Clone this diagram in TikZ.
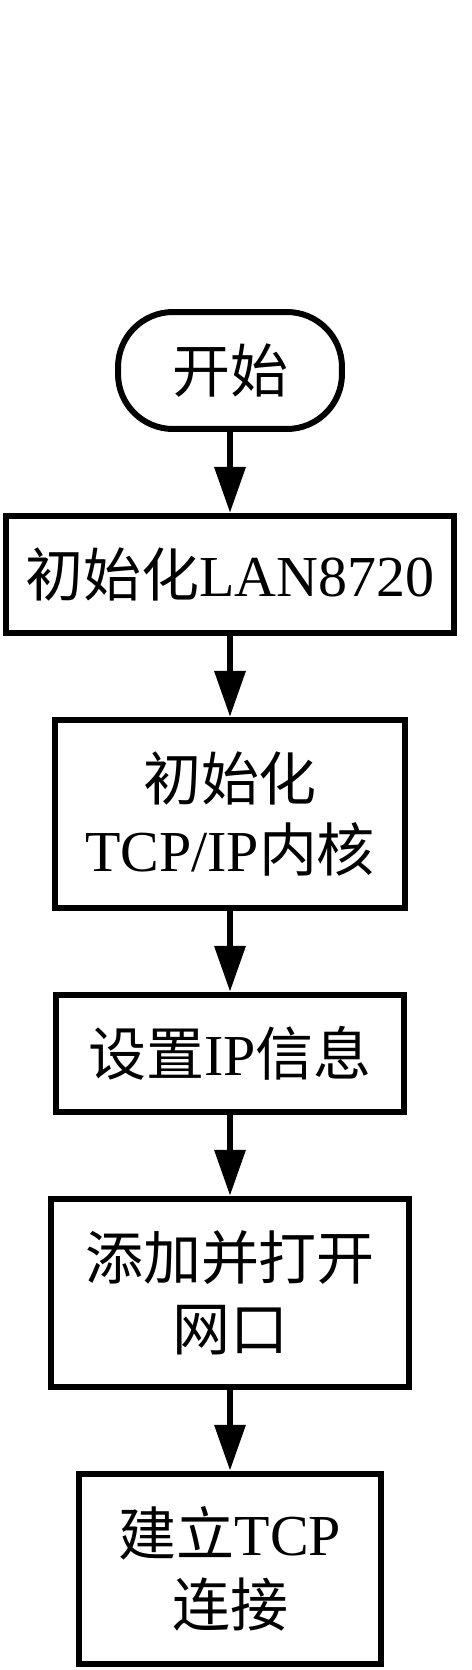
\documentclass[tikz,border=0pt]{standalone}
\usepackage{fontspec}
\setmainfont{Liberation Serif}
\newfontfamily\cjk{Noto Sans CJK SC}
\usepackage{tikz}
\usetikzlibrary{arrows.meta,positioning}

\begin{document}
\begin{tikzpicture}[
  x=0.02cm,y=-0.02cm,
  node distance=1.62cm,
  b/.style={draw,line width=0.12cm,align=center,inner sep=0pt,minimum height=2.34cm,font=\fontsize{33}{40.5}\selectfont},
  t/.style={b,rounded corners=1.1cm,minimum width=4.48cm},
  ar/.style={-{Triangle[length=0.92cm,width=0.6cm]},line width=0.13cm}]
\useasboundingbox (0,0) rectangle (471,1670);
\node[t] (start) at (230,370.5) {{\cjk 开始}};
\node[b,below=of start,minimum width=8.98cm] (lan) {{\cjk 初始化}LAN8720};
\node[b,below=of lan,minimum width=7.02cm,minimum height=3.76cm] (tcpip) {{\cjk 初始化}\\TCP/IP{\cjk 内核}};
\node[b,below=of tcpip,minimum width=6.98cm] (ipset) {{\cjk 设置}IP{\cjk 信息}};
\node[b,below=of ipset,minimum width=7.16cm,minimum height=3.76cm] (netif) {{\cjk 添加并打开}\\{\cjk 网口}};
\node[b,below=of netif,minimum width=6.04cm,minimum height=3.8cm] (tcpconn) {{\cjk 建立}TCP\\{\cjk 连接}};
\draw[ar] (start)--(lan); \draw[ar] (lan)--(tcpip); \draw[ar] (tcpip)--(ipset);
\draw[ar] (ipset)--(netif); \draw[ar] (netif)--(tcpconn);
\end{tikzpicture}
\end{document}
